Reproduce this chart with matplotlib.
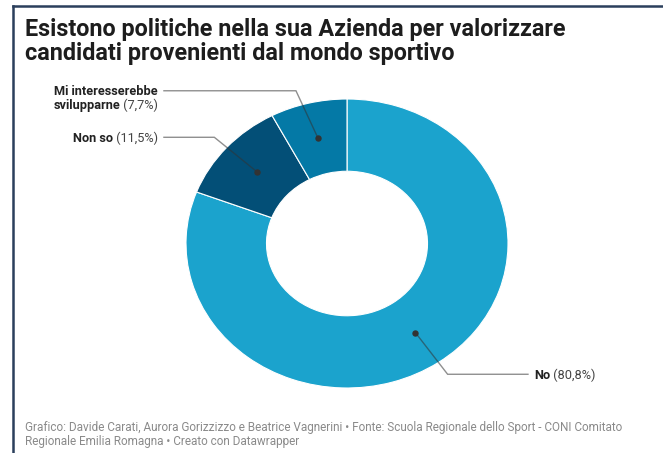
import matplotlib
matplotlib.use("Agg")
import matplotlib.pyplot as plt
import numpy as np

plt.rcParams['font.family'] = ['Roboto', 'DejaVu Sans']

# Data
categories = ["No", "Non so", "Mi interesserebbe\nsvilupparne"]
values = [80.8, 11.5, 7.7]
value_labels = ["80,8%", "11,5%", "7,7%"]
colors = ["#1ba3cd", "#034f77", "#0479a6"]

title_lines = ["Esistono politiche nella sua Azienda per valorizzare",
               "candidati provenienti dal mondo sportivo"]
footer_lines = ["Grafico: Davide Carati, Aurora Gorizzizzo e Beatrice Vagnerini \u2022 Fonte: Scuola Regionale dello Sport - CONI Comitato",
                "Regionale Emilia Romagna \u2022 Creato con Datawrapper"]

W, H = 663, 453
fig = plt.figure(figsize=(W / 100, H / 100), dpi=100)
fig.patch.set_facecolor("white")

def px(x, y):
    return x / W, 1 - y / H

# Frame lines on the left and top
fig.add_artist(plt.Line2D([13 / W, 13 / W], [0, 1 - 5.5 / H], color="#2b3f5c", lw=1.8))
fig.add_artist(plt.Line2D([13 / W, 1], [1 - 5.5 / H, 1 - 5.5 / H], color="#2b3f5c", lw=1.8))

# Title
for line, yb in zip(title_lines, [36, 60]):
    fig.text(*px(25, yb), line, fontsize=16.8, fontweight="bold", color="#1d1d1d",
             ha="left", va="baseline")

# Footer
for line, yb in zip(footer_lines, [431, 445]):
    fig.text(*px(25, yb), line, fontsize=8.5, color="#8a8a8a", ha="left", va="baseline")

# Donut axes
x0, x1, y0, y1 = 186, 508, 99, 388
ax = fig.add_axes([x0 / W, 1 - y1 / H, (x1 - x0) / W, (y1 - y0) / H])
wedges, _ = ax.pie(values, colors=colors, startangle=90, counterclock=False,
                   radius=1.0, wedgeprops=dict(width=0.5, edgecolor="white", linewidth=0.8))
ax.set_aspect("auto")
ax.set_xlim(-1, 1)
ax.set_ylim(-1, 1)
ax.axis("off")

# Label layout: elbow point (data coords), label-end x, text anchor
layout = [
    dict(elbow=(0.625, -0.905), end_x=1.124, side="left"),
    dict(elbow=(-0.824, 0.735), end_x=-1.137, side="right"),
    dict(elbow=(-0.317, 1.057), end_x=-1.137, side="right"),
]

fig.canvas.draw()
renderer = fig.canvas.get_renderer()
inv = ax.transData.inverted()

def text_width_data(t):
    bb = t.get_window_extent(renderer=renderer)
    p0 = inv.transform((bb.x0, bb.y0))
    p1 = inv.transform((bb.x1, bb.y0))
    return p1[0] - p0[0]

fs = 9.2
gap = 6 / (x1 - x0) * 2
line_h = 13.5 / (y1 - y0) * 2
for w, cat, vl, lay in zip(wedges, categories, value_labels, layout):
    mid = np.deg2rad((w.theta1 + w.theta2) / 2)
    r = 0.75
    dx, dy = r * np.cos(mid), r * np.sin(mid)
    ex, ey = lay["elbow"]
    ax.plot([dx, ex, lay["end_x"]], [dy, ey, ey], color="#333333", alpha=0.55,
            lw=1.0, clip_on=False, solid_joinstyle="miter")
    ax.plot([dx], [dy], "o", color="#333333", ms=3.6, clip_on=False)

    lines = cat.split("\n")
    tx = lay["end_x"] + (gap if lay["side"] == "left" else -gap)
    y_base = ey - 4.6 / (y1 - y0) * 2
    for i, ln in enumerate(lines):
        yy = y_base - i * line_h
        last = i == len(lines) - 1
        if lay["side"] == "left":
            t = ax.text(tx, yy, ln, fontsize=fs, fontweight="bold", color="#222222",
                        ha="left", va="baseline", clip_on=False)
            if last:
                wd = text_width_data(t)
                ax.text(tx + wd, yy, f" ({vl})", fontsize=fs, color="#444444",
                        ha="left", va="baseline", clip_on=False)
        else:
            if last:
                t2 = ax.text(tx, yy, f" ({vl})", fontsize=fs, color="#444444",
                             ha="right", va="baseline", clip_on=False)
                wd = text_width_data(t2)
                ax.text(tx - wd, yy, ln, fontsize=fs, fontweight="bold", color="#222222",
                        ha="right", va="baseline", clip_on=False)
            else:
                ax.text(tx, yy, ln, fontsize=fs, fontweight="bold", color="#222222",
                        ha="right", va="baseline", clip_on=False)

fig.savefig("out.png", dpi=100, facecolor="white")
